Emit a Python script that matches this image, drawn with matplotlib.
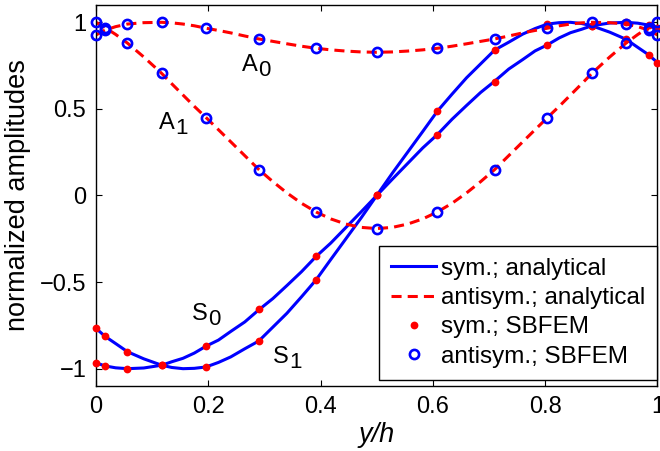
import matplotlib
matplotlib.use("Agg")
import matplotlib.pyplot as plt
from matplotlib.lines import Line2D
from matplotlib.transforms import offset_copy

plt.rcParams['font.family'] = ['Liberation Sans', 'DejaVu Sans']

# analytical curves
x_curve = [0, 0.016, 0.035, 0.056, 0.085, 0.117, 0.135, 0.155, 0.175, 0.196, 0.218,
           0.24, 0.265, 0.29, 0.315, 0.34, 0.366, 0.392, 0.418, 0.445, 0.472, 0.5,
           0.528, 0.555, 0.582, 0.608, 0.634, 0.66, 0.685, 0.71, 0.735, 0.76, 0.782,
           0.804, 0.825, 0.845, 0.865, 0.883, 0.915, 0.944, 0.965, 0.984, 1.0]
S0_curve = [-0.966, -0.984, -0.995, -1.0, -0.996, -0.98, -0.96, -0.94, -0.91, -0.87, -0.835,
            -0.785, -0.73, -0.66, -0.595, -0.52, -0.44, -0.352, -0.275, -0.185, -0.095, 0.0,
            0.095, 0.185, 0.275, 0.352, 0.44, 0.52, 0.595, 0.66, 0.73, 0.785, 0.835,
            0.87, 0.91, 0.94, 0.96, 0.98, 0.996, 1.0, 0.995, 0.984, 0.966]
S1_curve = [-0.767, -0.813, -0.855, -0.902, -0.943, -0.98, -0.993, -1.0, -0.998, -0.99, -0.964,
            -0.932, -0.885, -0.84, -0.76, -0.68, -0.585, -0.487, -0.37, -0.25, -0.13, 0.0,
            0.13, 0.25, 0.37, 0.487, 0.585, 0.68, 0.76, 0.84, 0.885, 0.932, 0.964,
            0.99, 0.998, 1.0, 0.993, 0.98, 0.943, 0.902, 0.855, 0.813, 0.767]
A0_curve = [0.927, 0.955, 0.975, 0.99, 0.998, 1.0, 0.997, 0.99, 0.98, 0.966, 0.953,
            0.939, 0.921, 0.904, 0.89, 0.876, 0.862, 0.85, 0.841, 0.834, 0.829, 0.827,
            0.829, 0.834, 0.841, 0.85, 0.862, 0.876, 0.89, 0.904, 0.921, 0.939, 0.953,
            0.966, 0.98, 0.99, 0.997, 1.0, 0.998, 0.99, 0.975, 0.955, 0.927]
A1_curve = [1.0, 0.97, 0.93, 0.88, 0.80, 0.705, 0.645, 0.58, 0.515, 0.45, 0.38,
            0.31, 0.23, 0.15, 0.08, 0.015, -0.045, -0.095, -0.135, -0.165, -0.184, -0.191,
            -0.184, -0.165, -0.135, -0.095, -0.045, 0.015, 0.08, 0.15, 0.23, 0.31, 0.38,
            0.45, 0.515, 0.58, 0.645, 0.705, 0.80, 0.88, 0.93, 0.97, 1.0]

# SBFEM node results
x_nodes = [0, 0.016, 0.056, 0.117, 0.196, 0.29, 0.392, 0.5, 0.608, 0.71, 0.804, 0.883, 0.944, 0.984, 1.0]
S0_nodes = [-0.966, -0.984, -1.0, -0.98, -0.868, -0.655, -0.352, 0.0, 0.352, 0.655, 0.868, 0.98, 1.0, 0.984, 0.966]
S1_nodes = [-0.767, -0.813, -0.902, -0.98, -0.99, -0.84, -0.487, 0.0, 0.487, 0.84, 0.99, 0.98, 0.902, 0.813, 0.767]
A0_nodes = [0.927, 0.955, 0.99, 1.0, 0.966, 0.904, 0.85, 0.827, 0.85, 0.904, 0.966, 1.0, 0.99, 0.955, 0.927]
A1_nodes = [1.0, 0.97, 0.88, 0.705, 0.45, 0.15, -0.095, -0.191, -0.095, 0.15, 0.45, 0.705, 0.88, 0.97, 1.0]

legend_labels = ['sym.; analytical', 'antisym.; analytical', 'sym.; SBFEM', 'antisym.; SBFEM']
mode_labels = [('A', '0'), ('A', '1'), ('S', '0'), ('S', '1')]
mode_label_pos = [(0.26, 0.72), (0.112, 0.383), (0.17, -0.719), (0.315, -0.966)]
x_ticks = [0, 0.2, 0.4, 0.6, 0.8, 1]
x_tick_labels = ['0', '0.2', '0.4', '0.6', '0.8', '1']
y_ticks = [-1, -0.5, 0, 0.5, 1]
y_tick_labels = ['\u22121', '\u22120.5', '0', '0.5', '1']

FS = 17
FS_LAB = 19.5
BLUE = '#0000ff'
RED = '#ff0000'
DPI = 100

fig = plt.figure(figsize=(6.6, 4.51), dpi=DPI)
ax = fig.add_axes([96 / 660, 1 - 386 / 451, (657.5 - 96) / 660, (386 - 5) / 451])

lw = 2.2
dash = (3.3, 2.0)
ax.plot(x_curve, S0_curve, color=BLUE, lw=lw, zorder=2)
ax.plot(x_curve, S1_curve, color=BLUE, lw=lw, zorder=2)
ax.plot(x_curve, A0_curve, color=RED, lw=lw, dashes=dash, zorder=2)
ax.plot(x_curve, A1_curve, color=RED, lw=lw, dashes=dash, zorder=2)

ms_dot = 5.6
ms_circ = 6.6
mew_circ = 1.9
for yy in (S0_nodes, S1_nodes):
    ax.plot(x_nodes, yy, 'o', color=RED, ms=ms_dot, mec=RED, mew=0, zorder=3, clip_on=False)
for yy in (A0_nodes, A1_nodes):
    ax.plot(x_nodes, yy, 'o', mfc='none', mec=BLUE, ms=ms_circ, mew=mew_circ, zorder=3, clip_on=False)

ax.set_xlim(0, 1)
ax.set_ylim(-1.1, 1.1)
ax.set_xticks(x_ticks)
ax.set_xticklabels(x_tick_labels, fontsize=FS)
ax.set_yticks(y_ticks)
ax.set_yticklabels(y_tick_labels, fontsize=FS)
ax.tick_params(direction='in', length=4.5, width=0.8, top=True, right=True, pad=7)
for s in ax.spines.values():
    s.set_linewidth(1.0)

ax.set_xlabel('y/h', fontsize=FS_LAB, style='italic', labelpad=3)
ax.set_ylabel('normalized amplitudes', fontsize=FS_LAB, labelpad=6)

# mode labels: letter plus a same-size subscript dropped a few pixels (MATLAB tex style)
em_px = FS * DPI / 72.0
for (main, sub), (lx, ly) in zip(mode_labels, mode_label_pos):
    ax.text(lx, ly, main, fontsize=FS, ha='left', va='baseline')
    tr = offset_copy(ax.transData, fig=fig, x=0.667 * em_px + 0.5, y=-5.0, units='dots')
    ax.text(lx, ly, sub, fontsize=FS - 1, ha='left', va='baseline', transform=tr)

handles = [
    Line2D([], [], color=BLUE, lw=lw),
    Line2D([], [], color=RED, lw=lw, dashes=dash),
    Line2D([], [], ls='none', marker='o', color=RED, ms=ms_dot, mew=0),
    Line2D([], [], ls='none', marker='o', mfc='none', mec=BLUE, ms=ms_circ, mew=mew_circ),
]
leg = ax.legend(handles, legend_labels, loc='lower right', bbox_to_anchor=(1.0, 0.016),
                fontsize=17.5, frameon=True, fancybox=False, edgecolor='black',
                framealpha=1, borderaxespad=0, handlelength=1.85, handletextpad=0.2,
                labelspacing=0.3, borderpad=0.5)
leg.get_frame().set_linewidth(1.0)

fig.savefig('out.png', dpi=DPI)
